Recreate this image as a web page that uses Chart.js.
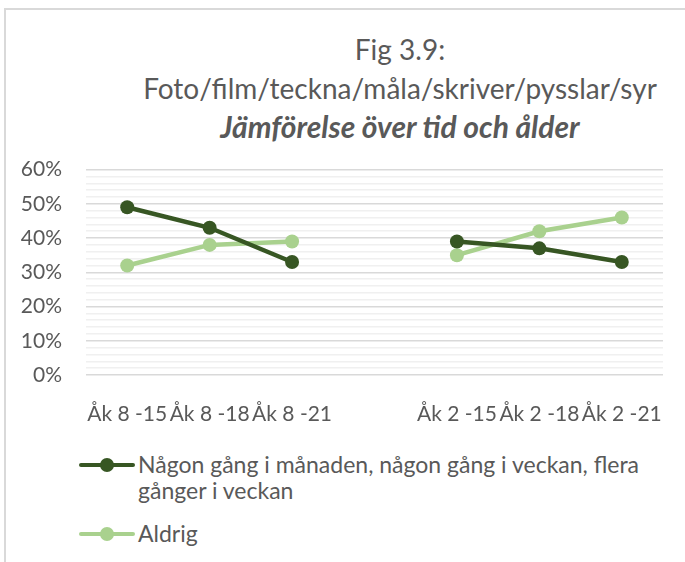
<!DOCTYPE html>
<html>
<head>
<meta charset="utf-8">
<script src="https://cdn.jsdelivr.net/npm/chart.js@4/dist/chart.umd.min.js"></script>
<style>
    body { margin: 0; background: #fff; width: 685px; height: 562px; overflow: hidden; position: relative; font-family: Lato, "Noto Sans", sans-serif; color: #595959; }
    #ram { position: absolute; left: 4px; top: 8px; width: 700px; height: 600px; border-left: 2px solid #d9d9d9; border-top: 2px solid #d9d9d9; }
    #titel { position: absolute; left: 100px; width: 600px; top: 30px; text-align: center; font-size: 28px; line-height: 39px; }
    #titel .kursiv { font-weight: bold; font-style: italic; font-size: 30px; line-height: 36px; }
    #diagramRuta { position: absolute; left: 0; top: 133px; width: 685px; height: 297px; }
    #forklaring { position: absolute; left: 79px; top: 451px; font-size: 23px; line-height: 26px; }
    .post { display: flex; align-items: flex-start; margin-bottom: 17px; }
    .markor { position: relative; width: 56px; height: 26px; flex: none; }
    .markor .linje { position: absolute; left: 0; right: 0; top: 12px; height: 4px; border-radius: 2px; }
    .markor .punkt { position: absolute; left: 21px; top: 7px; width: 14px; height: 14px; border-radius: 50%; }
    .text { max-width: 520px; padding-left: 3px; }
</style>
</head>
<body>
<div id="ram"></div>
<div id="titel">
    <div>Fig 3.9:</div>
    <div>Foto/film/teckna/måla/skriver/pysslar/syr</div>
    <div class="kursiv">Jämförelse över tid och ålder</div>
</div>
<div id="diagramRuta"><canvas id="figur"></canvas></div>
<div id="forklaring"></div>

<script>
// Kategorier (tom plats mellan grupperna)
const kategorier = ['Åk 8 -15', 'Åk 8 -18', 'Åk 8 -21', '', 'Åk 2 -15', 'Åk 2 -18', 'Åk 2 -21'];

// Serier i procent
const serieNamn = ['Någon gång i månaden, någon gång i veckan, flera gånger i veckan', 'Aldrig'];
const ofta = [49, 43, 33, null, 39, 37, 33];
const aldrig = [32, 38, 39, null, 35, 42, 46];

// Y-axel
const yMin = 0;
const yMax = 60;
const yStegMinor = 2;
const yStegMajor = 10;

const farger = ['#375623', '#a9d18e'];
const textFarg = '#595959';
const typsnitt = 'Lato, "Noto Sans", sans-serif';

function skapaDataset(namn, data, farg) {
    return {
        label: namn,
        data: data,
        borderColor: farg,
        backgroundColor: farg,
        borderWidth: 4.5,
        pointRadius: 7,
        pointHoverRadius: 7,
        pointBorderWidth: 0,
        spanGaps: false,
        tension: 0
    };
}

const diagram = new Chart(document.getElementById('figur'), {
    type: 'line',
    data: {
        labels: kategorier,
        datasets: [
            skapaDataset(serieNamn[0], ofta, farger[0]),
            skapaDataset(serieNamn[1], aldrig, farger[1])
        ]
    },
    options: {
        responsive: true,
        maintainAspectRatio: false,
        animation: false,
        layout: { padding: { top: 3, right: 22, left: 0, bottom: 0 } },
        plugins: {
            legend: { display: false },
            title: { display: false },
            tooltip: { enabled: false }
        },
        scales: {
            x: {
                offset: true,
                grid: { display: false },
                border: { display: false },
                ticks: {
                    color: textFarg,
                    font: { family: typsnitt, size: 21 },
                    autoSkip: false,
                    maxRotation: 0,
                    padding: 19
                },
                afterFit: function(skala) { skala.height = 55; }
            },
            y: {
                min: yMin,
                max: yMax,
                border: { display: false },
                grid: {
                    drawTicks: false,
                    lineWidth: 1.5,
                    color: function(ctx) {
                        return ctx.tick.value % yStegMajor === 0 ? '#d9d9d9' : '#f0f0f0';
                    }
                },
                ticks: {
                    stepSize: yStegMinor,
                    autoSkip: false,
                    color: textFarg,
                    padding: 24,
                    font: { family: typsnitt, size: 21 },
                    callback: function(varde) {
                        return varde % yStegMajor === 0 ? varde + '%' : '';
                    }
                },
                afterFit: function(skala) { skala.width = 86; }
            }
        }
    }
});

// Förklaring som HTML så att den långa texten kan radbrytas
const forklaring = document.getElementById('forklaring');
diagram.data.datasets.forEach(function(ds) {
    const post = document.createElement('div');
    post.className = 'post';
    post.innerHTML = `
        <div class="markor">
            <div class="linje" style="background:${ds.borderColor}"></div>
            <div class="punkt" style="background:${ds.borderColor}"></div>
        </div>
        <div class="text">${ds.label}</div>
    `;
    forklaring.appendChild(post);
});
</script>
</body>
</html>
